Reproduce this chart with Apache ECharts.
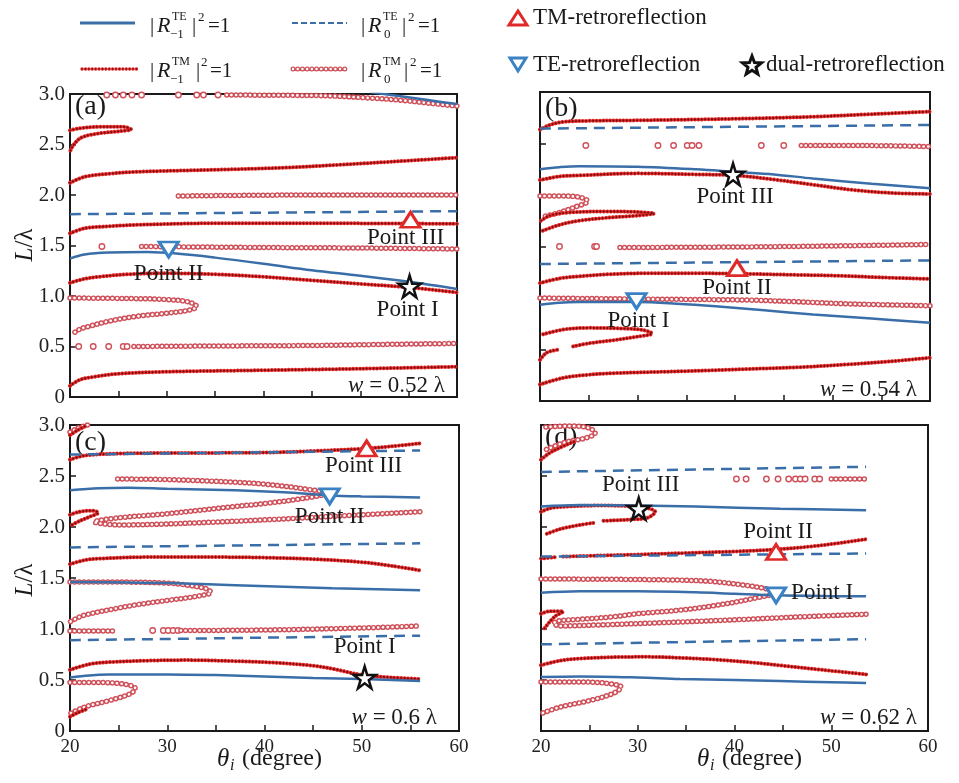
<!DOCTYPE html>
<html>
<head>
<meta charset="utf-8">
<script src="https://cdn.jsdelivr.net/npm/echarts@6/dist/echarts.min.js"></script>
<style>
  html, body { margin: 0; padding: 0; background: #fff; }
  #chart { width: 959px; height: 783px; }
</style>
</head>
<body>
<div id="chart"></div>
<script>
// ---- data: [theta_i (deg), L/lambda] ----
// panel (a) w = 0.52 lambda
const aTE1 = [
  [[20,1.37],[21.5,1.41],[24,1.43],[28,1.435],[31,1.42],[35,1.38],[40,1.32],[45,1.255],[50,1.2],[55,1.14],[60,1.07]],
  [[51,3.02],[54,2.98],[57,2.94],[60,2.9]]
];
const aTE0 = [[[20,1.81],[60,1.84]]];
const aTM1 = [
  [[20,0.11],[21,0.17],[22.5,0.2],[25,0.23],[30,0.25],[40,0.265],[50,0.28],[60,0.3]],
  [[20,1.13],[21.5,1.17],[23,1.19],[26,1.215],[30,1.225],[35,1.215],[40,1.19],[45,1.155],[50,1.12],[55,1.085],[60,1.035]],
  [[20,1.62],[21.5,1.67],[24,1.69],[27,1.705],[35,1.72],[45,1.72],[60,1.715]],
  [[20,2.12],[21.5,2.18],[24,2.21],[27,2.23],[35,2.25],[42,2.27],[48,2.3],[55,2.34],[60,2.37]],
  [[20,2.64],[21,2.66],[23,2.675],[25.5,2.675],[26.3,2.65],[25,2.63],[23,2.61],[21.2,2.57],[20.4,2.5],[20,2.43]]
];
const aTM0 = [
  [[26.6,0.5],[35,0.505],[45,0.51],[52,0.52],[60,0.53]],
  [[20,0.98],[26,0.975],[30,0.965],[32.3,0.94],[33.1,0.895],[32.3,0.86],[30,0.83],[27,0.8],[24,0.75],[22,0.7],[21,0.67],[20.2,0.62]],
  [[27.4,1.49],[40,1.48],[50,1.475],[60,1.465]],
  [[31.2,1.99],[45,2.0],[60,2.0]],
  [[36.2,2.99],[45,2.985],[47.2,2.98],[51,2.96],[54,2.94],[57,2.91],[60,2.88]]
];
const aDots = [[20.9,0.5],[22.4,0.5],[24,0.5],[25.5,0.5],[25.9,0.5],[23.3,1.49],
  [23.8,2.99],[24.7,2.99],[25.5,2.99],[26.4,2.99],[27.4,2.99],[31.2,2.99],[33.1,2.99],[33.8,2.99],[35.3,2.99]];
const aMarks = [[30.2,1.46,'te','Point II'],[55.2,1.755,'tm','Point III'],[55.1,1.095,'dual','Point I']];

// panel (b) w = 0.54 lambda
const bTE1 = [
  [[20,0.935],[22,0.955],[24,0.96],[30,0.96],[34,0.945],[38,0.92],[43,0.88],[48,0.84],[54,0.8],[60,0.76]],
  [[20,2.25],[22,2.27],[24,2.28],[30,2.275],[36,2.25],[40,2.225],[44,2.2],[48,2.16],[54,2.11],[60,2.065]]
];
const bTE0 = [[[20,1.33],[60,1.365]], [[20,2.645],[60,2.68]]];
const bTM1 = [
  [[20,0.16],[22.4,0.225],[25,0.255],[27.5,0.27],[35,0.29],[41.2,0.31],[47,0.33],[51.5,0.355],[56,0.385],[60,0.42]],
  [[20,0.4],[20.7,0.47],[22,0.5]],
  [[23.4,0.53],[25,0.56],[27.5,0.59],[30,0.625],[31.5,0.655],[30.5,0.69],[28,0.705],[25,0.71],[22.5,0.695],[20.2,0.645]],
  [[20,1.145],[22,1.19],[24,1.21],[27,1.23],[31,1.24],[36,1.24],[41,1.235],[46,1.225],[51,1.215],[55,1.2],[60,1.185]],
  [[20.1,1.75],[21,1.8],[23,1.83],[27,1.84],[30,1.835],[31.7,1.82],[30,1.8],[27,1.78],[24,1.75],[22,1.71],[20.2,1.65]],
  [[20,2.145],[22,2.18],[24,2.19],[30,2.21],[36,2.2],[40,2.19],[44,2.15],[48,2.1],[52,2.05],[56,2.02],[60,2.01]],
  [[20,2.635],[21,2.68],[22.4,2.71],[25,2.72],[30,2.725],[40,2.74],[48,2.76],[54,2.785],[60,2.81]]
];
const bTM0 = [
  [[20,1.0],[25,0.995],[30,0.99],[41.2,0.98],[46,0.965],[51,0.945],[55,0.935],[60,0.925]],
  [[28.2,1.49],[40,1.495],[50,1.505],[60,1.52]],
  [[20,1.99],[22,1.99],[24,1.98],[24.9,1.94],[23.5,1.88],[22,1.83],[20.3,1.79]],
  [[46.8,2.48],[53,2.48],[60,2.47]]
];
const bDots = [[22,1.5],[25.6,1.5],[25.8,1.5],[24.7,2.48],[32.1,2.48],[33.7,2.48],[35.1,2.48],[35.6,2.48],[36.3,2.48],[42.7,2.48],[45,2.48]];
const bMarks = [[29.9,0.97,'te','Point I'],[40.2,1.29,'tm','Point II'],[39.8,2.2,'dual','Point III']];

// panel (c) w = 0.6 lambda
const cTE1 = [
  [[20,0.525],[22,0.545],[24,0.553],[30,0.555],[35,0.548],[40,0.535],[45,0.52],[50,0.51],[56,0.49]],
  [[20,1.46],[26,1.455],[30,1.45],[37,1.43],[42,1.415],[47,1.4],[56,1.38]],
  [[20,2.36],[23,2.38],[26,2.385],[30,2.375],[37,2.36],[42,2.34],[46.7,2.31],[50,2.3],[56,2.29]]
];
const cTE0 = [[[20,0.89],[56,0.935]], [[20,1.8],[56,1.84]], [[20,2.71],[56,2.75]]];
const cTM1 = [
  [[20,0.6],[22,0.655],[24,0.675],[28,0.69],[32,0.695],[37,0.685],[41,0.67],[45,0.64],[47,0.61],[50,0.55],[53,0.525],[56,0.51]],
  [[20,0.14],[20.8,0.18],[21.6,0.21]],
  [[20,1.635],[21.5,1.675],[23,1.69],[28,1.705],[35,1.705],[40,1.7],[45,1.685],[50,1.655],[53,1.62],[56,1.575]],
  [[20,2.12],[21,2.15],[22.3,2.16],[22.9,2.14],[22,2.1],[21,2.06],[20.2,2.02]],
  [[20,2.66],[21.5,2.7],[25,2.72],[30,2.725],[40,2.73],[45,2.745],[50.5,2.77],[53,2.79],[56,2.82]],
  [[20,2.9],[20.8,2.95],[21.6,2.99]]
];
const cTM0 = [
  [[20,0.475],[23,0.475],[25.5,0.46],[26.7,0.42],[26.3,0.37],[24.1,0.3],[21.5,0.235],[20,0.17]],
  [[20,0.98],[24.4,0.98]],
  [[31.4,0.985],[40,0.99],[50,1.01],[56,1.03]],
  [[20,1.46],[25,1.46],[30,1.45],[32,1.43],[34,1.395],[34.5,1.36],[33,1.32],[30,1.28],[27,1.24],[24.7,1.2],[21.3,1.13],[20,1.07]],
  [[24.9,2.47],[30,2.465],[36.8,2.44],[40,2.42],[43.6,2.38],[46.4,2.33],[44,2.28],[40,2.23],[36.8,2.2],[30,2.13],[25,2.09],[22.5,2.05],[25,2.02],[30,2.03],[40,2.07],[48,2.11],[56,2.15]],
  [[20,2.93],[20.8,2.97],[21.8,3.0]]
];
const cDots = [[28.5,0.985],[29.6,0.985],[30.1,0.985],[30.6,0.985],[31.1,0.985]];
const cMarks = [[50.3,0.525,'dual','Point I'],[46.7,2.30,'te','Point II'],[50.5,2.77,'tm','Point III']];

// panel (d) w = 0.62 lambda
const dTE1 = [
  [[20,0.53],[24,0.535],[30,0.525],[34.4,0.51],[40,0.5],[44.7,0.49],[50,0.478],[53.6,0.47]],
  [[20,1.355],[24,1.37],[30,1.37],[36,1.36],[40,1.345],[44.3,1.33],[50,1.322],[53.6,1.32]],
  [[20,2.2],[24,2.215],[30,2.21],[36,2.2],[44.7,2.18],[53.6,2.165]]
];
const dTE0 = [[[20,0.85],[53.6,0.9]], [[20,1.71],[53.6,1.74]], [[20,2.54],[53.6,2.59]]];
const dTM1 = [
  [[20,0.645],[22,0.69],[24,0.71],[28,0.725],[31,0.727],[35,0.715],[38,0.7],[42,0.67],[45,0.64],[49,0.6],[53.6,0.555]],
  [[20,1.15],[21,1.175],[22.3,1.17],[21.4,1.12],[20.3,1.0]],
  [[20,1.69],[21.5,1.705]],
  [[22.3,1.71],[26,1.72],[30,1.73],[35,1.745],[40,1.76],[44.3,1.78],[48,1.81],[51,1.845],[53.6,1.88]],
  [[20,2.15],[21,2.185],[22.6,2.2],[26,2.21],[29,2.205],[31,2.185],[31.8,2.15],[31,2.09],[29.5,2.075],[27.5,2.065],[26.2,2.06]],
  [[25.4,2.04],[24,2.02],[22,1.98],[20.5,1.93]],
  [[20,2.66],[20.8,2.72],[22,2.78],[23.5,2.84]]
];
const dTM0 = [
  [[20,0.48],[24,0.48],[26.5,0.47],[28.3,0.43],[27.5,0.37],[25.1,0.3],[22,0.235],[20,0.17]],
  [[20,1.49],[30,1.485],[37,1.47],[41,1.43],[43.5,1.39],[44.3,1.36],[42,1.3],[38,1.23],[34.4,1.185],[30,1.15],[27.5,1.12],[24,1.095],[21.8,1.08],[21.3,1.055],[22,1.03],[26,1.04],[32,1.06],[40,1.09],[47,1.12],[53.6,1.145]],
  [[50,2.47],[53.6,2.47]],
  [[20.5,2.98],[23,2.99],[25,2.97],[25.6,2.92],[24.5,2.87],[22.5,2.83],[20.3,2.75]]
];
const dDots = [[40.2,2.47],[41.2,2.47],[43.3,2.47],[44.5,2.47],[45.6,2.47],[46.3,2.47],[46.8,2.47],[47.3,2.47],[48.3,2.47],[48.8,2.47]];
const dMarks = [[44.3,1.33,'te','Point I'],[44.3,1.755,'tm','Point II'],[30.1,2.18,'dual','Point III']];

const widthLabels = ['0.52', '0.54', '0.6', '0.62'];
const panelLetters = ['(a)', '(b)', '(c)', '(d)'];
const xTicks = [20, 30, 40, 50, 60];

// ---- styling / layout ----
const SERIF = '"Liberation Serif", "Times New Roman", serif';
const BLUE = '#3a6ea8';
const TRI_BLUE = '#3b82c4';
const RED = '#e02a2a';
const PINK = '#d0505a';
const INK = '#1a1a1a';
const STAR = 'path://M50,0 L61,35 L98,35 L68,57 L79,91 L50,70 L21,91 L32,57 L2,35 L39,35 Z';

const grids = [
  { left: 70, top: 94, width: 387, height: 303 },
  { left: 540, top: 92, width: 390, height: 309 },
  { left: 70, top: 425, width: 389, height: 306 },
  { left: 541, top: 425, width: 387, height: 306 }
];
const labelOffsets = [
  [[0, 24], [-5, 18], [-2, 24]],
  [[2, 20], [0, 20], [2, 23]],
  [[0, -30], [0, 21], [-3, 17]],
  [[46, -2], [2, -20], [2, -24]]
];

const panels = [
  { te1: aTE1, te0: aTE0, tm1: aTM1, tm0: aTM0, dots: aDots, marks: aMarks },
  { te1: bTE1, te0: bTE0, tm1: bTM1, tm0: bTM0, dots: bDots, marks: bMarks },
  { te1: cTE1, te0: cTE0, tm1: cTM1, tm0: cTM0, dots: cDots, marks: cMarks },
  { te1: dTE1, te0: dTE0, tm1: dTM1, tm0: dTM0, dots: dDots, marks: dMarks }
];

function curve(i, data, lineStyle) {
  return {
    type: 'line', xAxisIndex: i, yAxisIndex: i, data: data, smooth: 0.35,
    symbol: 'none', silent: true, animation: false, lineStyle: lineStyle
  };
}

const ringOuter = { color: PINK, width: 5.5, type: [0.1, 4.6], cap: 'round' };
const ringInner = { color: '#fff', width: 2.6, type: [0.1, 4.6], cap: 'round' };
const beadOuter = { color: RED, width: 4, type: [0.1, 3.3], cap: 'round' };
const beadInner = { color: '#6a0808', width: 1.8, type: [0.1, 3.3], cap: 'round' };

const series = [];
panels.forEach((p, i) => {
  p.tm0.forEach(c => {
    series.push(curve(i, c, ringOuter));
    series.push(curve(i, c, ringInner));
  });
  series.push({
    type: 'scatter', xAxisIndex: i, yAxisIndex: i, data: p.dots, silent: true, animation: false,
    symbol: 'circle', symbolSize: 5.5,
    itemStyle: { color: '#fff', borderColor: PINK, borderWidth: 1.4, opacity: 1 }
  });
  p.tm1.forEach(c => {
    series.push(curve(i, c, beadOuter));
    series.push(curve(i, c, beadInner));
  });
  p.te0.forEach(c => series.push(curve(i, c, { color: BLUE, width: 2.5, type: [11, 7] })));
  p.te1.forEach(c => series.push(curve(i, c, { color: BLUE, width: 2.5 })));
  series.push({
    type: 'scatter', xAxisIndex: i, yAxisIndex: i, silent: true, animation: false, z: 5,
    data: p.marks.map((m, k) => {
      const item = {
        value: [m[0], m[1]],
        label: {
          show: true, formatter: m[3], position: 'inside', offset: labelOffsets[i][k],
          color: INK, fontFamily: SERIF, fontSize: 23
        }
      };
      if (m[2] === 'tm') {
        item.symbol = 'triangle'; item.symbolSize = [19, 15];
        item.itemStyle = { color: '#fff', borderColor: RED, borderWidth: 3, opacity: 1 };
      } else if (m[2] === 'te') {
        item.symbol = 'triangle'; item.symbolSize = [19, 15]; item.symbolRotate = 180;
        item.itemStyle = { color: '#fff', borderColor: TRI_BLUE, borderWidth: 3, opacity: 1 };
      } else {
        item.symbol = STAR; item.symbolSize = 22;
        item.itemStyle = { color: '#fff', borderColor: '#111', borderWidth: 2.5, opacity: 1 };
      }
      return item;
    })
  });
});

// ---- legend and annotations as graphic elements ----
const graphic = [];
function txt(x, y, text, size, extra) {
  return Object.assign({
    type: 'text', silent: true,
    style: { x: x, y: y, text: text, fill: INK, fontFamily: SERIF, fontSize: size, align: 'left', verticalAlign: 'middle' }
  }, extra || {});
}
function itxt(x, y, text, size) {
  const t = txt(x, y, text, size);
  t.style.fontStyle = 'italic';
  return t;
}
// |R^sup_sub|^2=1 ; xs = [bar, R, sup, sub, bar2, two, eq]
function mathLabel(y, sup, sub, xs) {
  graphic.push(txt(xs[0], y, '|', 21));
  graphic.push(itxt(xs[1], y, 'R', 22));
  graphic.push(txt(xs[2], y - 9, sup, 12));
  graphic.push(txt(xs[3], y + 9, sub, 13));
  graphic.push(txt(xs[4], y, '|', 21));
  graphic.push(txt(xs[5], y - 8, '2', 13));
  graphic.push(txt(xs[6], y, '=1', 21));
}

graphic.push({ type: 'line', silent: true, shape: { x1: 80, y1: 23, x2: 135, y2: 23 }, style: { stroke: BLUE, lineWidth: 2.8 } });
mathLabel(26, 'TE', '\u22121', [150, 157, 172, 170, 192, 198, 208]);
graphic.push({ type: 'line', silent: true, shape: { x1: 292, y1: 23, x2: 347, y2: 23 }, style: { stroke: BLUE, lineWidth: 2, lineDash: [6, 3] } });
mathLabel(26, 'TE', '0', [361, 368, 383, 384, 402, 408, 418]);
graphic.push({ type: 'line', silent: true, shape: { x1: 82, y1: 69, x2: 138, y2: 69 }, style: { stroke: RED, lineWidth: 3.4, lineDash: [0.1, 3.3], lineCap: 'round' } });
graphic.push({ type: 'line', silent: true, shape: { x1: 82, y1: 69, x2: 138, y2: 69 }, style: { stroke: '#6a0808', lineWidth: 1.4, lineDash: [0.1, 3.3], lineCap: 'round' } });
mathLabel(71, 'TM', '\u22121', [150, 157, 172, 170, 196, 201, 210]);
graphic.push({ type: 'line', silent: true, shape: { x1: 293, y1: 69, x2: 348, y2: 69 }, style: { stroke: PINK, lineWidth: 5, lineDash: [0.1, 4.6], lineCap: 'round' } });
graphic.push({ type: 'line', silent: true, shape: { x1: 293, y1: 69, x2: 348, y2: 69 }, style: { stroke: '#fff', lineWidth: 2.4, lineDash: [0.1, 4.6], lineCap: 'round' } });
mathLabel(71, 'TM', '0', [361, 368, 383, 384, 404, 410, 420]);

graphic.push({ type: 'polygon', silent: true, shape: { points: [[509, 25], [527, 25], [518, 11]] }, style: { fill: '#fff', stroke: RED, lineWidth: 3 } });
graphic.push(txt(533, 18, 'TM-retroreflection', 23));
graphic.push({ type: 'polygon', silent: true, shape: { points: [[510, 58], [526, 58], [518, 71]] }, style: { fill: '#fff', stroke: TRI_BLUE, lineWidth: 3 } });
graphic.push(txt(533, 65, 'TE-retroreflection', 23));
const starPts = [];
for (let k = 0; k < 10; k++) {
  const r = k % 2 === 0 ? 10 : 4.2;
  const a = -Math.PI / 2 + k * Math.PI / 5;
  starPts.push([752 + r * Math.cos(a), 66 + r * Math.sin(a)]);
}
graphic.push({ type: 'polygon', silent: true, shape: { points: starPts }, style: { fill: '#fff', stroke: '#111', lineWidth: 3 } });
graphic.push(txt(766, 65, 'dual-retroreflection', 23));

// panel letters and width annotations
const letterPos = [[75, 107], [545, 109], [75, 443], [545, 438]];
const widthPos = [[445, 386], [917, 390], [437, 718], [917, 718]];
panels.forEach((p, i) => {
  graphic.push(txt(letterPos[i][0], letterPos[i][1], panelLetters[i], 28));
  const w = txt(widthPos[i][0], widthPos[i][1], '{i|w} = ' + widthLabels[i] + ' \u03bb', 23);
  w.style.align = 'right';
  w.style.rich = { i: { fontStyle: 'italic', fontFamily: SERIF, fontSize: 23, fill: INK } };
  graphic.push(w);
});

// axis titles
[245, 580].forEach(cy => {
  const t = txt(25, cy, '{i|L}/\u03bb', 25, { rotation: Math.PI / 2, x: 25, y: cy });
  t.style.x = 0; t.style.y = 0; t.style.align = 'center';
  t.style.rich = { i: { fontStyle: 'italic', fontFamily: SERIF, fontSize: 25, fill: INK } };
  graphic.push(t);
});
[217, 697].forEach(x0 => {
  graphic.push(itxt(x0, 759, '\u03b8', 25));
  graphic.push(itxt(x0 + 13, 766, 'i', 16));
  graphic.push(txt(x0 + 25, 759, '(degree)', 24));
});

const option = {
  backgroundColor: '#fff',
  animation: false,
  grid: grids.map(g => Object.assign({
    show: true, borderColor: INK, borderWidth: 2, backgroundColor: 'transparent',
    containLabel: false, outerBoundsMode: 'none'
  }, g)),
  xAxis: grids.map((g, i) => ({
    type: 'value', gridIndex: i, min: 20, max: 60, interval: 5,
    axisLine: { show: false }, splitLine: { show: false },
    axisTick: { show: true, inside: true, length: 6, lineStyle: { color: INK, width: 1.5 } },
    axisLabel: {
      show: i >= 2, margin: 7, color: '#222', fontFamily: SERIF, fontSize: 19,
      formatter: v => (xTicks.indexOf(v) >= 0 ? String(v) : '')
    }
  })),
  yAxis: grids.map((g, i) => ({
    type: 'value', gridIndex: i, min: 0, max: 3, interval: 0.5,
    axisLine: { show: false }, splitLine: { show: false },
    axisTick: { show: true, inside: true, length: 6, lineStyle: { color: INK, width: 1.5 } },
    axisLabel: {
      show: i === 0 || i === 2, margin: 5, color: '#222', fontFamily: SERIF, fontSize: 21,
      formatter: v => (v === 0 ? '0' : v.toFixed(1))
    }
  })),
  series: series,
  graphic: graphic
};

const myChart = echarts.init(document.getElementById('chart'), null, { renderer: 'canvas' });
myChart.setOption(option);
window.addEventListener('resize', function () {
  myChart.resize();
});
</script>
</body>
</html>
